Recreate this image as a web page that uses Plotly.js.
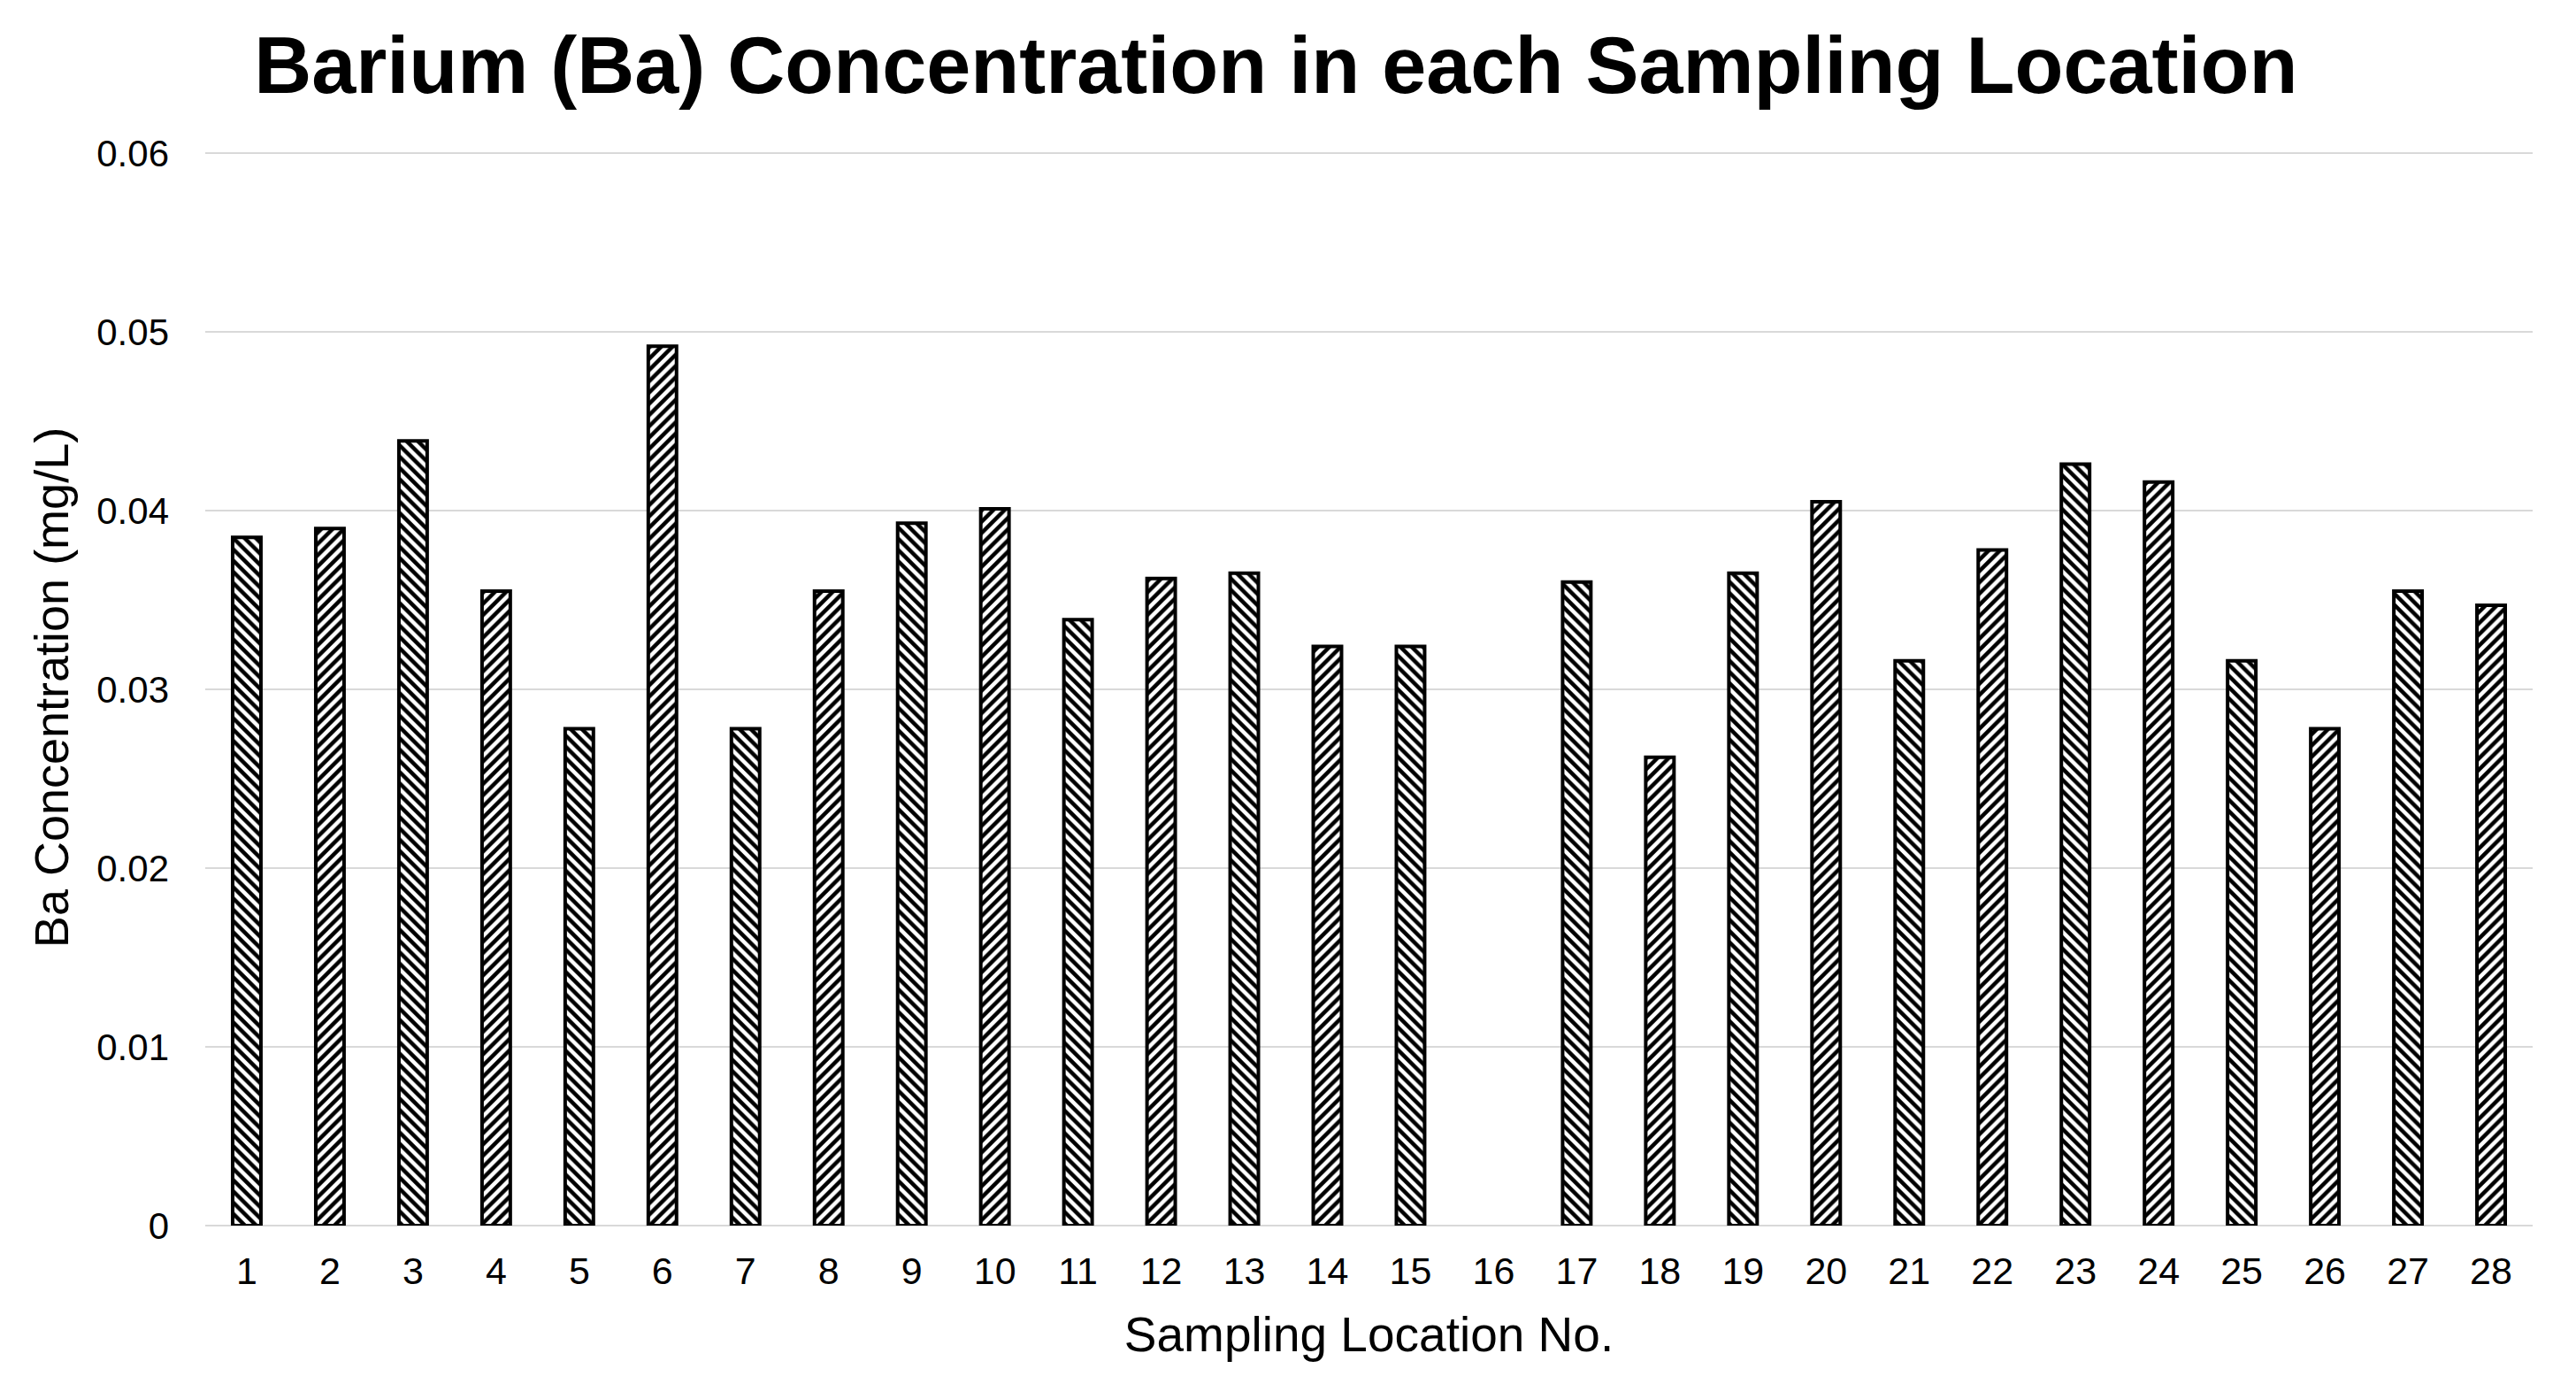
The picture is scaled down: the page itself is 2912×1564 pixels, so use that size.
<!DOCTYPE html>
<html>
<head>
<meta charset="utf-8">
<script src="https://cdn.plot.ly/plotly-3.0.1.min.js"></script>
<style>
  html, body { margin: 0; padding: 0; background: #ffffff; }
  #chart { width: 2912px; height: 1564px; }
</style>
</head>
<body>
<div id="chart"></div>
<script>
// Data (location 16 has no bar)
const locations = ["1","2","3","4","5","6","7","8","9","10","11","12","13","14",
                   "15","16","17","18","19","20","21","22","23","24","25","26","27","28"];
const baConcentration = [0.0385, 0.0390, 0.0439, 0.0355, 0.0278, 0.0492, 0.0278, 0.0355,
                         0.0393, 0.0401, 0.0339, 0.0362, 0.0365, 0.0324, 0.0324, null,
                         0.0360, 0.0262, 0.0365, 0.0405, 0.0316, 0.0378, 0.0426, 0.0416,
                         0.0316, 0.0278, 0.0355, 0.0347];
const yTickValues = [0, 0.01, 0.02, 0.03, 0.04, 0.05, 0.06];
const yTickLabels = ["0", "0.01", "0.02", "0.03", "0.04", "0.05", "0.06"];

const chartTitle = "Barium (Ba) Concentration in each Sampling Location";
const xTitle = "Sampling Location No.";
const yTitle = "Ba Concentration (mg/L)";

// Alternate hatch direction per bar, as in the reference
const hatch = locations.map((_, i) => (i % 2 === 0 ? "\\" : "/"));

const FONT = "Liberation Sans, Arial, Helvetica, sans-serif";

const trace = {
  type: "bar",
  x: locations,
  y: baConcentration,
  width: 0.34,
  marker: {
    color: "#ffffff",
    line: { color: "#000000", width: 4 },
    pattern: {
      shape: hatch,
      fgcolor: "#000000",
      bgcolor: "#ffffff",
      size: 9,
      solidity: 0.5
    }
  },
  hoverinfo: "x+y"
};

const layout = {
  width: 2912,
  height: 1564,
  paper_bgcolor: "#ffffff",
  plot_bgcolor: "#ffffff",
  margin: { l: 232, r: 49, t: 169, b: 179, pad: 0 },
  showlegend: false,
  font: { family: FONT, color: "#000000", size: 42 },
  title: {
    text: "<b>" + chartTitle + "</b>",
    font: { family: FONT, size: 90, color: "#000000" },
    xref: "container",
    x: 0.4953,
    xanchor: "center",
    yref: "container",
    y: 0.953,
    yanchor: "middle"
  },
  xaxis: {
    type: "category",
    showgrid: false,
    zeroline: false,
    showline: false,
    ticks: "",
    tickfont: { family: FONT, size: 43, color: "#000000" },
    ticklabelstandoff: 22,
    title: {
      text: xTitle,
      font: { family: FONT, size: 55, color: "#000000" },
      standoff: 29
    },
    automargin: false
  },
  yaxis: {
    range: [0, 0.0602],
    tickvals: yTickValues,
    ticktext: yTickLabels,
    showgrid: true,
    gridcolor: "#d9d9d9",
    gridwidth: 2.5,
    zeroline: true,
    zerolinecolor: "#d9d9d9",
    zerolinewidth: 2.5,
    showline: false,
    ticks: "",
    tickfont: { family: FONT, size: 42, color: "#000000" },
    ticklabelstandoff: 40,
    title: {
      text: yTitle,
      font: { family: FONT, size: 54, color: "#000000" },
      standoff: 14
    },
    automargin: false
  },
  bargap: 0.66
};

Plotly.newPlot("chart", [trace], layout, { displayModeBar: false, staticPlot: true });
</script>
</body>
</html>
